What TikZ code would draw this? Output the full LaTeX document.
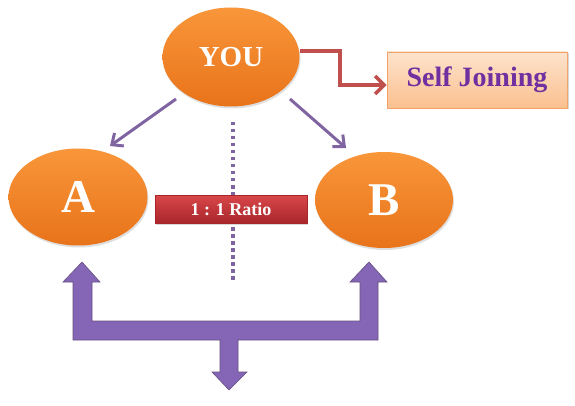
\documentclass[tikz,border=0pt]{standalone}
\usepackage{fontspec}
\setmainfont{Liberation Serif}
\usetikzlibrary{arrows.meta,shadows,shapes.geometric}
\definecolor{orgA}{HTML}{F9963A}
\definecolor{orgB}{HTML}{E8731A}
\definecolor{peachA}{HTML}{FDE3CC}
\definecolor{peachB}{HTML}{FAC08F}
\definecolor{peachEdge}{HTML}{F2A36B}
\definecolor{txtPurple}{HTML}{7030A0}
\definecolor{lnRed}{HTML}{C0504D}
\definecolor{boxRedA}{HTML}{D9474A}
\definecolor{boxRedB}{HTML}{A8262A}
\definecolor{lnPurple}{HTML}{8064A2}
\definecolor{bigPurple}{HTML}{8565B5}
\begin{document}
\begin{tikzpicture}[x=1pt,y=-1pt,
  oval/.style={ellipse,top color=orgA,bottom color=orgB,draw=none,
    drop shadow={shadow xshift=1pt,shadow yshift=-2pt,opacity=0.25},
    font=\bfseries,text=white,inner sep=0pt},
  joinbox/.style={rectangle,top color=peachA,bottom color=peachB,draw=peachEdge,line width=0.8pt,
    drop shadow={shadow xshift=1.5pt,shadow yshift=-1.5pt,opacity=0.3},
    font=\bfseries\fontsize{28}{30}\selectfont,text=txtPurple,minimum width=180pt,minimum height=56pt},
  ratiobox/.style={rectangle,top color=boxRedA,bottom color=boxRedB,draw=boxRedB,line width=0.5pt,
    drop shadow={shadow xshift=1pt,shadow yshift=-1.5pt,opacity=0.3},
    font=\bfseries\fontsize{18}{20}\selectfont,text=white,minimum width=152pt,minimum height=28pt},
  thinarrow/.style={draw=lnPurple,line width=3pt,-{Straight Barb[length=9pt,width=16pt,line width=3pt]}},
  redarrow/.style={draw=lnRed,line width=4pt,-{Straight Barb[length=9pt,width=18pt,line width=3.5pt]}},
  dotline/.style={draw=lnPurple,line width=3.5pt,dash pattern=on 3.5pt off 3.5pt},
  bigarrow/.style={fill=bigPurple,draw=lnPurple!80!black,line width=0.6pt}
]
\useasboundingbox (0,0) rectangle (575,406);
\fill[white] (0,0) rectangle (575,406);

% dotted divider
\coordinate (dtop) at (233,122);
\coordinate (dbot) at (233,282);
\draw[dotline] (dtop) -- (dbot);

% ellipses
\node[oval,minimum width=137pt,minimum height=99pt,font=\bfseries\fontsize{29}{30}\selectfont] (you) at (231,57) {YOU};
\node[oval,minimum width=139pt,minimum height=97pt,font=\bfseries\fontsize{47}{48}\selectfont] (a) at (78,197) {A};
\node[oval,minimum width=138pt,minimum height=96pt,font=\bfseries\fontsize{47}{48}\selectfont] (b) at (384,200) {B};

% boxes
\node[joinbox] (self) at (477,80) {Self Joining};
\node[ratiobox] (ratio) at (231,209) {1 : 1 Ratio};

% arrows from YOU
\coordinate (ya) at (176,99);
\coordinate (aa) at (110,146);
\coordinate (yb) at (290,99);
\coordinate (bb) at (346,148);
\draw[thinarrow] (ya) -- (aa);
\draw[thinarrow] (yb) -- (bb);
\draw[redarrow] (you.east |- 0,51) -- (340,51) -- (340,85) -- (self.west |- 0,85);

% big three-way arrow
\draw[bigarrow] (73,340) -- (73,282) -- (63,282) -- (82,262) -- (100,282) -- (92,282) -- (92,321)
  -- (360,321) -- (360,282) -- (350,282) -- (369,262) -- (387,282) -- (378,282) -- (378,340)
  -- (238,340) -- (238,372) -- (247,372) -- (229,390) -- (212,372) -- (220,372) -- (220,340) -- cycle;
\end{tikzpicture}
\end{document}
